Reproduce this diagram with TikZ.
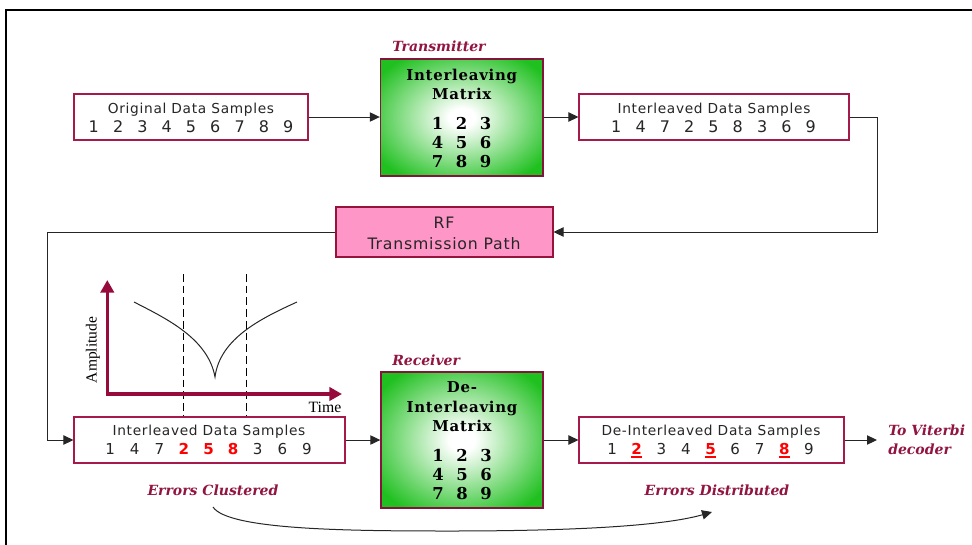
\documentclass[tikz,border=0pt]{standalone}
\usepackage{fontspec}
\usetikzlibrary{arrows.meta}
\newfontfamily\boxfont[LetterSpace=5]{DejaVu Sans}
\newfontfamily\digfont{DejaVu Sans}
\newfontfamily\matfont[LetterSpace=5]{DejaVu Serif}
\newfontfamily\labfont{DejaVu Serif}
\newfontfamily\tnrfont{Liberation Serif}
\definecolor{bord}{RGB}{165,25,75}
\definecolor{rfbord}{RGB}{150,20,60}
\definecolor{lab}{RGB}{145,20,65}
\definecolor{axiscol}{RGB}{150,10,60}
\definecolor{gg}{RGB}{32,192,32}
\definecolor{pinkf}{RGB}{255,150,200}
\definecolor{errred}{RGB}{255,0,0}
\pgfdeclareradialshading{greenglow}{\pgfpoint{0bp}{0bp}}{color(0bp)=(white); color(4bp)=(white); color(31bp)=(gg); color(50bp)=(gg)}
\newcommand\er[1]{\textcolor{errred}{\bfseries #1}}
\newcommand\eu[1]{\textcolor{errred}{\bfseries\setbox0\hbox{#1}\rlap{\rule[-2.6pt]{\wd0}{1.4pt}}\box0}}
\tikzset{
  databox/.style={draw=bord, line width=0.8pt, fill=white, inner sep=0pt, minimum height=34.5pt},
  matbox/.style={draw=bord!80!black, line width=1pt, shading=greenglow, inner sep=0pt},
  rfbox/.style={draw=rfbord, line width=1.5pt, fill=pinkf, inner sep=0pt},
  boxtxt/.style={font=\boxfont\fontsize{10.3pt}{12pt}\selectfont, text=black!85, inner sep=0pt, anchor=base},
  digtop/.style={font=\digfont\fontsize{12pt}{14pt}\selectfont, text=black!85, inner sep=0pt, anchor=base},
  digbot/.style={font=\digfont\fontsize{11.3pt}{14pt}\selectfont, text=black!85, inner sep=0pt, anchor=base},
  mattxt/.style={font=\matfont\bfseries\fontsize{11.2pt}{13pt}\selectfont, inner sep=0pt, anchor=base},
  matdig/.style={font=\labfont\bfseries\fontsize{12.3pt}{14pt}\selectfont, inner sep=0pt, anchor=base},
  rftxt/.style={font=\boxfont\fontsize{11.8pt}{14pt}\selectfont, text=black!85, inner sep=0pt, anchor=base},
  labtxt/.style={font=\labfont\bfseries\itshape\fontsize{10.5pt}{12pt}\selectfont, text=lab, inner sep=0pt},
  conn/.style={draw=black!85, line width=0.75pt, -{Triangle[length=7.5pt,width=7pt]}},
  plain/.style={draw=black!85, line width=0.75pt},
  axisline/.style={draw=axiscol, line width=2.6pt, line join=miter, {Triangle[length=9.5pt,width=10pt]}-{Triangle[length=9.5pt,width=10pt]}},
  dashline/.style={draw=black, line width=0.6pt, dash pattern=on 5.8pt off 3pt},
}
\begin{document}
\begin{tikzpicture}[x=0.75pt,y=-0.75pt]
\useasboundingbox (0,0) rectangle (972,544);
% frame
\draw[line width=1.5pt] (6,560) -- (6,10) -- (990,10);

% boxes
\node[databox, minimum width=175.5pt] (orig) at (191,117) {};
\node[matbox, minimum width=121.9pt, minimum height=87.75pt] (mat1) at (461.75,117.5) {};
\node[databox, minimum width=202.5pt] (ilvtop) at (714,117) {};
\node[rfbox, minimum width=162.75pt, minimum height=37.5pt] (rf) at (444,232) {};
\node[databox, minimum width=203.25pt] (ilvbot) at (209.5,440) {};
\node[matbox, minimum width=121.5pt, minimum height=102pt] (mat2) at (462,440) {};
\node[databox, minimum width=198.75pt] (deint) at (711.5,440) {};

% texts in data boxes
\node[boxtxt] (origT) at (191,113) {Original Data Samples};
\foreach \d [count=\i] in {1,...,9}
  \node[digtop] (o\i) at ({191+(\i-5)*24.3},132) {\d};
\node[boxtxt] (ilvtopT) at (714,113) {Interleaved Data Samples};
\foreach \d [count=\i] in {1,4,7,2,5,8,3,6,9}
  \node[digtop] (t\i) at ({713.5+(\i-5)*24.3},132) {\d};
\node[boxtxt] (ilvbotT) at (209,435.7) {Interleaved Data Samples};
\foreach \d [count=\i] in {1,4,7,{\er{2}},{\er{5}},{\er{8}},3,6,9}
  \node[digbot] (b\i) at ({208.5+(\i-5)*24.6},454.3) {\d};
\node[boxtxt] (deintT) at (711,435.7) {De-Interleaved Data Samples};
\foreach \d [count=\i] in {1,{\eu{2}},3,4,{\eu{5}},6,7,{\eu{8}},9}
  \node[digbot] (d\i) at ({710.5+(\i-5)*24.6},454.3) {\d};

% matrix texts
\node[mattxt] (m1a) at (461.75,80) {Interleaving};
\node[mattxt] (m1b) at (461.75,99) {Matrix};
\foreach \r/\y in {0/129,1/148,2/167}
  \foreach \c in {0,1,2}
    \pgfmathtruncatemacro{\v}{3*\r+\c+1}
    \node[matdig] (ma\v) at ({437.5+\c*24},\y) {\v};
\node[mattxt] (m2a) at (462,392.7) {De-};
\node[mattxt] (m2b) at (462,412.7) {Interleaving};
\node[mattxt] (m2c) at (462,431.7) {Matrix};
\foreach \r/\y in {0/461,1/480,2/499}
  \foreach \c in {0,1,2}
    \pgfmathtruncatemacro{\v}{3*\r+\c+1}
    \node[matdig] (mb\v) at ({438+\c*24},\y) {\v};

% RF text
\node[rftxt] (rfa) at (444,228) {RF};
\node[rftxt] (rfb) at (444,249) {Transmission Path};

% labels
\node[labtxt, anchor=base west] (tx) at (392,51.7) {Transmitter};
\node[labtxt, anchor=base west] (rx) at (392,365.7) {Receiver};
\node[labtxt, anchor=base] (ecl) at (213,495) {Errors Clustered};
\node[labtxt, anchor=base] (edi) at (717,495) {Errors Distributed};
\node[labtxt, anchor=base west] (vit1) at (888,435.7) {To Viterbi};
\node[labtxt, anchor=base west] (vit2) at (888,454.3) {decoder};

% connectors
\draw[conn] (orig.east) -- (mat1.west |- orig.east);
\draw[conn] (mat1.east |- ilvtop.west) -- (ilvtop.west);
\coordinate (c1) at (877,117);
\coordinate (c2) at (877,232);
\draw[conn] (ilvtop.east) -- (c1) -- (c2) -- (rf.east);
\coordinate (c3) at (47,232);
\coordinate (c4) at (47,440);
\draw[conn] (rf.west) -- (c3) -- (c4) -- (ilvbot.west);
\draw[conn] (ilvbot.east) -- (mat2.west |- ilvbot.east);
\draw[conn] (mat2.east |- deint.west) -- (deint.west);
\coordinate (vt) at (877,440);
\draw[conn] (deint.east) -- (vt);

% error curve
\coordinate (es) at (213,507);
\coordinate (ee) at (712,512);
\draw[conn] (es) .. controls (228,530) and (350,531) .. (450,531)
  .. controls (560,531) and (660,527) .. (ee);

% graph
\coordinate (ax0) at (107.3,394);
\coordinate (axy) at (107.3,280);
\coordinate (axx) at (342,394);
\coordinate (dl1) at (183,274);
\coordinate (dl2) at (246,274);
\draw[dashline] (dl1) -- (dl1 |- ilvbot.north);
\draw[dashline] (dl2) -- (dl2 |- ilvbot.north);
\draw[axisline] (axy) -- (ax0) -- (axx);
\draw[plain] (134,302) .. controls (165,318) and (208,338) .. (215,377)
  .. controls (220,338) and (262,318) .. (297,302);
\node[font=\tnrfont\fontsize{11.6pt}{13pt}\selectfont, rotate=90, inner sep=0pt] (amp) at (93,350) {Amplitude};
\node[font=\tnrfont\fontsize{11.8pt}{13pt}\selectfont, anchor=base, inner sep=0pt] (tim) at (325,412.7) {Time};
\end{tikzpicture}
\end{document}
